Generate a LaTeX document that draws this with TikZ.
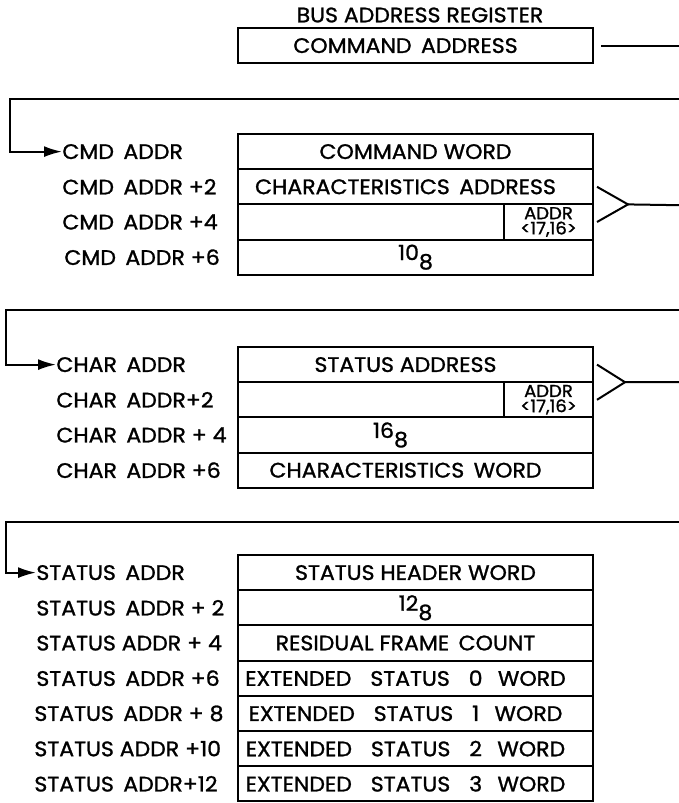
\documentclass[tikz,border=0pt]{standalone}
\usepackage{fontspec}
\setmainfont{Poppins}[FakeBold=1.2, FakeStretch=1.05]
\usetikzlibrary{arrows.meta, positioning}

\tikzset{
  word/.style={draw, line width=1pt, outer sep=0pt, inner sep=0pt, minimum width=177.5pt, minimum height=17.6pt},
  subcell/.style={draw, line width=1pt, outer sep=0pt, inner sep=0pt, anchor=north east, minimum width=44.5pt, minimum height=17.6pt, align=center, font=\fontsize{8.6}{7.6}\selectfont},
  addr/.style={anchor=west, inner sep=0pt},
  link/.style={line width=1pt},
}
\newcommand{\octal}[2]{#1\raisebox{-0.8ex}{#2}}
\newcommand{\gap}{\hspace{0.45em}}
\newcommand{\nudge}{\hspace{-10pt}}

\begin{document}
\begin{tikzpicture}[x=0.5pt, y=-0.5pt, >={Latex[length=9pt, width=5.5pt]}, font=\fontsize{10.5}{12}\selectfont]
  \useasboundingbox (0,0) rectangle (679,803);
  % bus address register
  \node (title) at (420,15) {BUS ADDRESS REGISTER};
  \node[word, anchor=north] (bar) at (415.5,28) {\nudge COMMAND\gap ADDRESS};
  \coordinate (out0) at (679,45.6);
  \draw[link] ([xshift=4pt]bar.east) -- (out0);

  % command block
  \node[word, anchor=north] (cmd1) at (415.5,134) {COMMAND WORD};
  \node[word, below=0pt of cmd1] (cmd2) {\nudge CHARACTERISTICS\gap ADDRESS};
  \node[word, below=0pt of cmd2] (cmd3) {};
  \node[word, below=0pt of cmd3] (cmd4) {\octal{10}{8}};
  \node[subcell] (cmdhi) at (cmd3.north east) {ADDR\\<17,16>};
  \node[addr] (lc1) at (62,0 |- cmd1) {CMD\gap ADDR};
  \node[addr] (lc2) at (62,0 |- cmd2) {CMD\gap ADDR +2};
  \node[addr] (lc3) at (62,0 |- cmd3) {CMD\gap ADDR +4};
  \node[addr] (lc4) at (64,0 |- cmd4) {CMD\gap ADDR +6};
  \coordinate (in1) at (679,99);
  \coordinate (k1) at (10,99);
  \draw[link, ->] (in1) -- (k1) |- (lc1.west);
  \coordinate (tip1) at ([xshift=17.5pt]cmd2.south east);
  \coordinate (out1) at (679,205.2);
  \draw[link] ([xshift=2pt]cmd2.east) -- (tip1) -- ([xshift=2pt]cmd3.east);
  \draw[link] (tip1) -- (out1);

  % characteristics block
  \node[word, anchor=north] (chr1) at (415.5,347) {\nudge STATUS ADDRESS};
  \node[word, below=0pt of chr1] (chr2) {};
  \node[word, below=0pt of chr2] (chr3) {\hspace{-25pt}\octal{16}{8}};
  \node[word, below=0pt of chr3] (chr4) {\nudge CHARACTERISTICS\gap WORD};
  \node[subcell] (chrhi) at (chr2.north east) {ADDR\\<17,16>};
  \node[addr] (lh1) at (56,0 |- chr1) {CHAR\gap ADDR};
  \node[addr] (lh2) at (56,0 |- chr2) {CHAR\gap ADDR+2};
  \node[addr] (lh3) at (56,0 |- chr3) {CHAR\gap ADDR + 4};
  \node[addr] (lh4) at (56,0 |- chr4) {CHAR\gap ADDR +6};
  \coordinate (in2) at (679,310);
  \coordinate (k2) at (6,310);
  \draw[link, ->] (in2) -- (k2) |- (lh1.west);
  \coordinate (tip2) at ([xshift=16pt]chr1.south east);
  \coordinate (out2) at (679,382.2);
  \draw[link] ([xshift=2pt]chr1.east) -- (tip2) -- ([xshift=2pt]chr2.east);
  \draw[link] (tip2) -- (out2);

  % status block
  \node[word, anchor=north] (st1) at (415.5,555) {STATUS HEADER WORD};
  \node[word, below=0pt of st1] (st2) {\octal{12}{8}};
  \node[word, below=0pt of st2] (st3) {\nudge RESIDUAL FRAME\gap COUNT};
  \node[word, below=0pt of st3] (st4) {\nudge EXTENDED\gap\gap STATUS\gap\gap 0\gap\ WORD};
  \node[word, below=0pt of st4] (st5) {\nudge EXTENDED\gap\gap STATUS\gap\gap 1\gap\ WORD};
  \node[word, below=0pt of st5] (st6) {\nudge EXTENDED\gap\gap STATUS\gap\gap 2\gap\ WORD};
  \node[word, below=0pt of st6] (st7) {\nudge EXTENDED\gap\gap STATUS\gap\gap 3\gap\ WORD};
  \node[addr] (ls1) at (36,0 |- st1) {STATUS\gap ADDR};
  \node[addr] (ls2) at (36,0 |- st2) {STATUS\gap ADDR + 2};
  \node[addr] (ls3) at (36,0 |- st3) {STATUS ADDR + 4};
  \node[addr] (ls4) at (36,0 |- st4) {STATUS\gap ADDR +6};
  \node[addr] (ls5) at (34,0 |- st5) {STATUS\gap ADDR + 8};
  \node[addr] (ls6) at (34,0 |- st6) {STATUS ADDR +10};
  \node[addr] (ls7) at (34,0 |- st7) {STATUS\gap ADDR+12};
  \coordinate (in3) at (679,522);
  \coordinate (k3) at (6,522);
  \draw[link, ->] (in3) -- (k3) |- (ls1.west);
\end{tikzpicture}
\end{document}
